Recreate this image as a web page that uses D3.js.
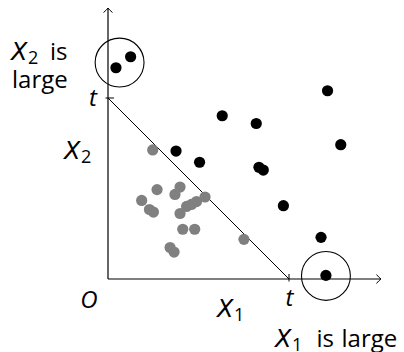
<!DOCTYPE html>
<html>
<head>
<meta charset="utf-8">
<script src="https://cdn.jsdelivr.net/npm/d3@7"></script>
<style>
  html, body { margin: 0; padding: 0; background: #fff; }
  svg { display: block; }
  text { font-family: "Open Sans", "Noto Sans", sans-serif; fill: #000; }
  .var { font-family: "DejaVu Sans", sans-serif; font-style: italic; }
</style>
</head>
<body>
<svg id="chart" width="404" height="352"></svg>
<script>
// Threshold t sits at 1 on both axes.
const blackX = [0.044, 0.125, 1.213, 0.631, 0.819, 1.286, 0.376, 0.506, 0.834, 0.858, 0.969, 1.177, 1.204];
const blackY = [1.167, 1.228, 1.040, 0.902, 0.859, 0.742, 0.707, 0.645, 0.617, 0.602, 0.405, 0.230, 0.020];
const grayX = [0.247, 0.271, 0.186, 0.229, 0.251, 0.398, 0.370, 0.398, 0.434, 0.461, 0.489, 0.536, 0.413, 0.479, 0.343, 0.365, 0.751];
const grayY = [0.713, 0.494, 0.434, 0.384, 0.370, 0.508, 0.467, 0.362, 0.401, 0.412, 0.428, 0.453, 0.275, 0.275, 0.174, 0.149, 0.219];
const threshold = 1;
// circled extremes
const highlightX = [0.064, 1.204];
const highlightY = [1.196, 0.017];
const highlightR = 0.135;

const svg = d3.select("#chart");
const x = d3.scaleLinear().domain([0, 1]).range([108, 289]);
const y = d3.scaleLinear().domain([0, 1]).range([279, 98]);
const xMax = 1.508, yMax = 1.497;

// axes
svg.append("line").attr("x1", x(0)).attr("y1", y(0)).attr("x2", x(xMax)).attr("y2", y(0))
  .attr("stroke", "#000").attr("stroke-width", 1.2);
svg.append("line").attr("x1", x(0)).attr("y1", y(0)).attr("x2", x(0)).attr("y2", y(yMax))
  .attr("stroke", "#000").attr("stroke-width", 1.2);
// arrow heads
const ah = d3.path();
ah.moveTo(x(xMax) - 4.5, y(0) - 4.5); ah.quadraticCurveTo(x(xMax) - 1.5, y(0) - 1, x(xMax), y(0));
ah.quadraticCurveTo(x(xMax) - 1.5, y(0) + 1, x(xMax) - 4.5, y(0) + 4.5);
ah.moveTo(x(0) - 4.5, y(yMax) + 4.5); ah.quadraticCurveTo(x(0) - 1, y(yMax) + 1.5, x(0), y(yMax));
ah.quadraticCurveTo(x(0) + 1, y(yMax) + 1.5, x(0) + 4.5, y(yMax) + 4.5);
svg.append("path").attr("d", ah.toString()).attr("fill", "none").attr("stroke", "#000").attr("stroke-width", 1);

// ticks at t
svg.append("line").attr("x1", x(threshold)).attr("x2", x(threshold)).attr("y1", y(0) - 5).attr("y2", y(0) + 2.5)
  .attr("stroke", "#000").attr("stroke-width", 1);
svg.append("line").attr("x1", x(0) - 2.5).attr("x2", x(0) + 6).attr("y1", y(threshold)).attr("y2", y(threshold))
  .attr("stroke", "#000").attr("stroke-width", 1);

// boundary X1 + X2 = t
svg.append("line").attr("x1", x(0)).attr("y1", y(threshold)).attr("x2", x(threshold)).attr("y2", y(0))
  .attr("stroke", "#000").attr("stroke-width", 1);

// points
const gray = grayX.map((v, i) => [v, grayY[i]]);
const black = blackX.map((v, i) => [v, blackY[i]]);
svg.append("g").selectAll("circle").data(gray).join("circle")
  .attr("cx", d => x(d[0])).attr("cy", d => y(d[1])).attr("r", 5.6).attr("fill", "#808080");
svg.append("g").selectAll("circle").data(black).join("circle")
  .attr("cx", d => x(d[0])).attr("cy", d => y(d[1])).attr("r", 5.6).attr("fill", "#000");

// rings around the extreme points
svg.append("g").selectAll("circle").data(highlightX.map((v, i) => [v, highlightY[i]])).join("circle")
  .attr("cx", d => x(d[0])).attr("cy", d => y(d[1]))
  .attr("r", x(highlightR) - x(0))
  .attr("fill", "none").attr("stroke", "#000").attr("stroke-width", 1.1);

// labels
const fs = 24, sub = 18;
// variable with subscript, e.g. X_1
function variable(tx, ty, name, index) {
  const t = svg.append("text").attr("x", tx).attr("y", ty).attr("font-size", fs);
  t.append("tspan").attr("class", "var").text(name);
  if (index) t.append("tspan").attr("font-size", sub).attr("dy", 4).attr("dx", 0.5).text(index);
  return t;
}
function plain(tx, ty, s, anchor) {
  return svg.append("text").attr("x", tx).attr("y", ty).attr("font-size", fs)
    .attr("text-anchor", anchor || "start").text(s);
}
function italic(tx, ty, s, anchor) {
  return svg.append("text").attr("x", tx).attr("y", ty).attr("font-size", fs)
    .attr("font-style", "italic").attr("text-anchor", anchor || "start").text(s);
}

variable(11, 59.5, "X", "2");
plain(50, 59.5, "is");
plain(12, 87.5, "large");
italic(97, 106, "t", "end");
variable(64, 158.5, "X", "2");
italic(89, 307.5, "O", "middle");
variable(217, 316.5, "X", "1");
italic(289.5, 306, "t", "middle");
variable(275, 346.5, "X", "1");
plain(316.5, 346.5, "is");
plain(341.5, 346.5, "large");
</script>
</body>
</html>
